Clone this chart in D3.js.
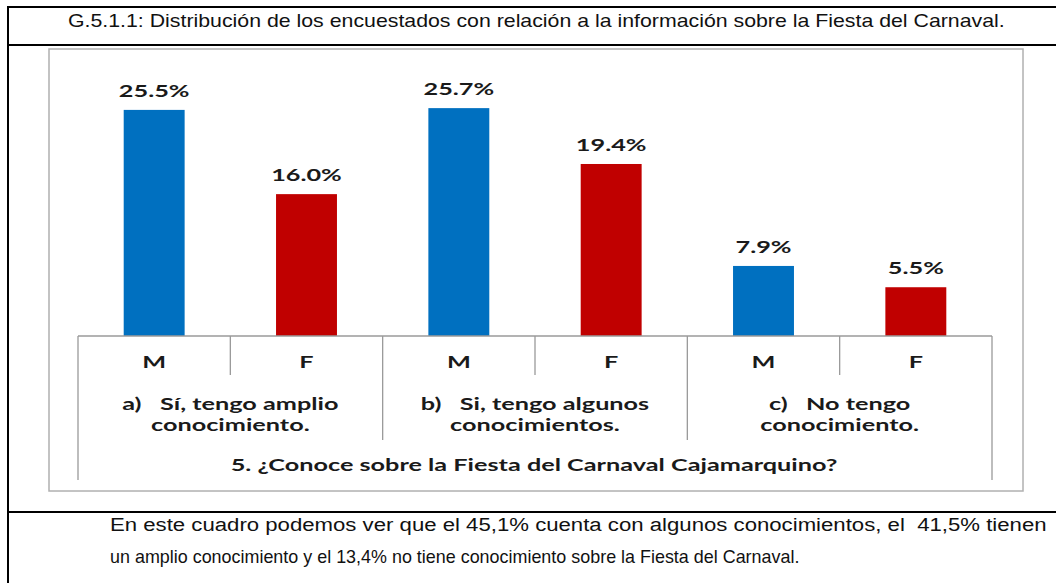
<!DOCTYPE html>
<html>
<head>
<meta charset="utf-8">
<script src="https://cdn.jsdelivr.net/npm/d3@7"></script>
<style>
  body { margin: 0; background: #fff; }
  svg { display: block; }
  text { white-space: pre; }
</style>
</head>
<body>
<svg id="page" width="1056" height="583"></svg>
<script>
// chart values
var sexes = ["M", "F", "M", "F", "M", "F"];
var values = [25.5, 16.0, 25.7, 19.4, 7.9, 5.5];
var groupKeys = ["a", "b", "c"];
var groupLine1 = ["a)   Sí, tengo amplio", "b)   Si, tengo algunos", "c)   No tengo"];
var groupLine2 = ["conocimiento.", "conocimientos.", "conocimiento."];
var question = "5. ¿Conoce sobre la Fiesta del Carnaval Cajamarquino?";
var titleText = "G.5.1.1: Distribución de los encuestados con relación a la información sobre la Fiesta del Carnaval.";
var noteLines = [
	"En este cuadro podemos ver que el 45,1% cuenta con algunos conocimientos, el  41,5% tienen",
	"un amplio conocimiento y el 13,4% no tiene conocimiento sobre la Fiesta del Carnaval."
];

var svg = d3.select("#page");
var blue = "#0070c0", red = "#c00000", grid = "#9a9a9a";
var narrowFont = "'Liberation Sans', Arial, sans-serif";
var labelFont = "Lato, 'Open Sans', sans-serif";

// table frame around the figure
[[7, 1056, 7, 7], [8, 8, 6, 583], [7, 1056, 45, 45], [7, 1056, 512, 512]].forEach(function (l) {
	svg.append("line")
		.attr("x1", l[0]).attr("x2", l[1]).attr("y1", l[2]).attr("y2", l[3])
		.attr("stroke", "#000").attr("stroke-width", 2);
});

// narrow (condensed) text: plain sans squeezed horizontally to a given width
function narrowText(str, size, px, py, width) {
	var t = svg.append("text")
		.attr("font-family", narrowFont)
		.attr("font-size", size)
		.attr("fill", "#111")
		.text(str);
	var k = width / t.node().getComputedTextLength();
	t.attr("transform", "translate(" + px + "," + py + ") scale(" + k + ",1)");
	return t;
}

narrowText(titleText, 18, 68, 27, 937);

// chart box
svg.append("rect")
	.attr("x", 49).attr("y", 49).attr("width", 974).attr("height", 442)
	.attr("fill", "#fff").attr("stroke", "#b0b0b0").attr("stroke-width", 1.5);

var axisY = 336;
var x = d3.scaleBand().domain(d3.range(values.length)).range([78, 992]);
var xg = d3.scaleBand().domain(groupKeys).range([78, 992]);
var y = d3.scaleLinear().domain([0, 30]).range([axisY, 70]);
var barW = x.bandwidth() * 0.4;

var chart = svg.append("g");

chart.selectAll("rect.bar")
	.data(values)
	.enter().append("rect")
	.attr("class", "bar")
	.attr("x", function (d, i) { return x(i) + (x.bandwidth() - barW) / 2; })
	.attr("y", function (d) { return y(d); })
	.attr("width", barW)
	.attr("height", function (d) { return axisY - y(d); })
	.attr("fill", function (d, i) { return sexes[i] == "M" ? blue : red; });

// category table under the bars
var gridLine = function (x1, x2, y1, y2) {
	chart.append("line")
		.attr("x1", x1).attr("x2", x2).attr("y1", y1).attr("y2", y2)
		.attr("stroke", grid).attr("stroke-width", 1.3);
};
gridLine(78, 992, axisY, axisY);
gridLine(78, 78, axisY, 480);
gridLine(992, 992, axisY, 480);
d3.range(1, values.length).forEach(function (i) {
	gridLine(x(i), x(i), axisY, (i % 2 == 0) ? 440 : 375);
});

// the chart's text is a stretched Calibri look: draw it wide with a shared x scale
var labels = [];
function addLabel(cx, cy, str, size) {
	var t = chart.append("text")
		.attr("text-anchor", "middle")
		.attr("font-family", labelFont).attr("font-weight", "bold").attr("font-size", size)
		.attr("fill", "#1a1a1a")
		.text(str);
	labels.push({ node: t, cx: cx, cy: cy });
	return t;
}

values.forEach(function (d, i) {
	addLabel(x(i) + x.bandwidth() / 2, y(d) - 13, d3.format(".1f")(d) + "%", 17);
});
sexes.forEach(function (s, i) {
	addLabel(x(i) + x.bandwidth() / 2, 368, s, 17);
});
groupKeys.forEach(function (k, i) {
	var cx = xg(k) + xg.bandwidth() / 2;
	addLabel(cx, 410, groupLine1[i], 17);
	addLabel(cx, 431, groupLine2[i], 17);
});
var q = addLabel(534, 471, question, 17);

var sx = 607 / q.node().getComputedTextLength();
labels.forEach(function (l) {
	l.node.attr("transform", "translate(" + l.cx + "," + l.cy + ") scale(" + sx + ",1)");
});

// note under the chart
narrowText(noteLines[0], 18, 110, 531, 937);
narrowText(noteLines[1], 18, 110, 563, 690);
</script>
</body>
</html>
